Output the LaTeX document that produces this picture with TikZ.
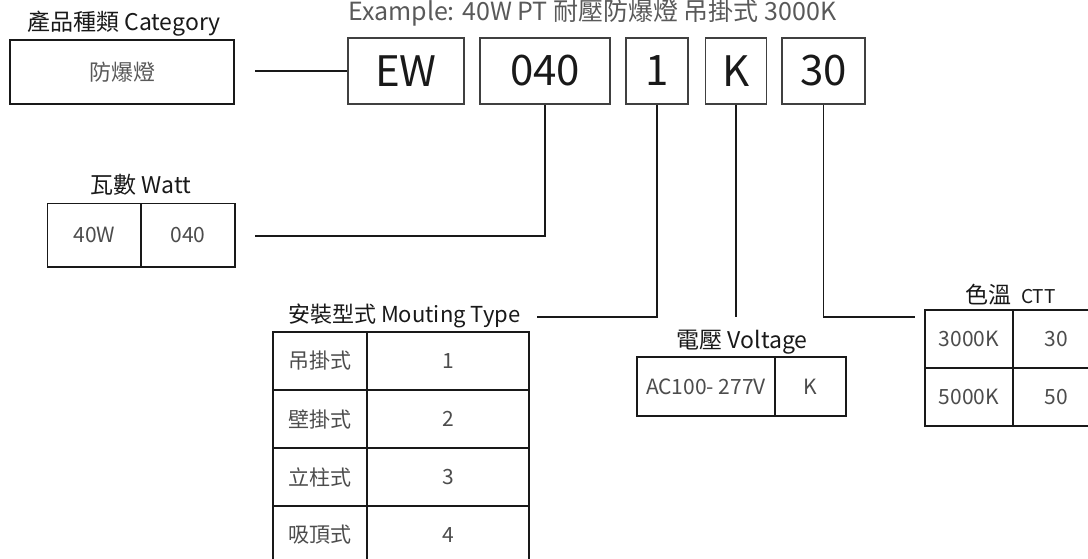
\documentclass[tikz,border=0pt]{standalone}
\usepackage{fontspec}
\setmainfont{Noto Sans CJK TC}
\begin{document}
\begin{tikzpicture}[x=1pt,y=-1pt,
 heading/.style={font=\fontsize{23}{27}\selectfont, text=black!90, inner sep=0pt},
 codebox/.style={draw=black!75, line width=1.3pt, minimum height=66pt, inner sep=0pt, font=\fontsize{42}{48}\selectfont, text=black!90},
 cell/.style={draw=black!90, line width=1.8pt, inner sep=0pt, font=\fontsize{21}{25}\selectfont, text=black!70},
 conn/.style={draw=black!90, line width=1.8pt}]
\useasboundingbox (0,0) rectangle (1088,559);
\clip (0,0) rectangle (1088,559);

% title
\node[font=\fontsize{25}{29}\selectfont, text=black!65, anchor=base west, inner sep=0pt] (title) at (348,21) {Example: 40W PT 耐壓防爆燈 吊掛式 3000K};

% category
\node[heading, anchor=base west] (cathead) at (27,31) {產品種類 Category};
\node[draw=black!90, line width=2pt, minimum width=224pt, minimum height=64pt, inner sep=0pt, font=\fontsize{22}{26}\selectfont, text=black!65] (cat) at (122,72) {防爆燈};

% code boxes
\node[codebox, minimum width=116pt] (ew) at (406,71) {EW};
\node[codebox, minimum width=130pt] (n040) at (545,71) {040};
\node[codebox, minimum width=62pt] (one) at (657,71) {1};
\node[codebox, minimum width=61pt] (k) at (736,71) {K};
\node[codebox, minimum width=83pt] (thirty) at (823.5,71) {30};

\coordinate (catend) at (255,71);
\draw[conn] (catend) -- (ew.west);

% watt
\node[heading, anchor=base] (watthead) at (141,194) {瓦數 Watt};
\node[cell, minimum width=93.5pt, minimum height=63.5pt] (w1) at (94.25,235.25) {40W};
\node[cell, minimum width=94pt, minimum height=63.5pt] (w2) at (188,235.25) {040};
\coordinate (wattend) at (255,236);
\draw[conn] (wattend) -| (n040.south);

% mounting
\node[heading, font=\fontsize{22}{26}\selectfont, anchor=base west] (mounthead) at (288,322) {安裝型式 Mouting Type};
\node[cell, minimum width=94pt, minimum height=58pt] (m1a) at (320,361) {吊掛式};
\node[cell, minimum width=162pt, minimum height=58pt] (m1b) at (448,361) {1};
\node[cell, minimum width=94pt, minimum height=58pt] (m2a) at (320,419) {壁掛式};
\node[cell, minimum width=162pt, minimum height=58pt] (m2b) at (448,419) {2};
\node[cell, minimum width=94pt, minimum height=58pt] (m3a) at (320,477) {立柱式};
\node[cell, minimum width=162pt, minimum height=58pt] (m3b) at (448,477) {3};
\node[cell, minimum width=94pt, minimum height=58pt] (m4a) at (320,535) {吸頂式};
\node[cell, minimum width=162pt, minimum height=58pt] (m4b) at (448,535) {4};
\coordinate (mountend) at (537,317);
\draw[conn] (mountend) -| (one.south);

% voltage
\coordinate (kend) at (736,317);
\draw[conn] (k.south) -- (kend);
\node[heading, anchor=base] (volthead) at (742,348) {電壓 Voltage};
\node[cell, minimum width=138pt, minimum height=59pt] (v1) at (706,386.5) {AC100- 277V};
\node[cell, minimum width=71pt, minimum height=59pt] (v2) at (810.5,386.5) {K};

% ctt
\coordinate (cttend) at (915,317);
\draw[conn] (thirty.south) |- (cttend);
\node[heading, anchor=base west] (ctthead) at (965,303) {色溫\hspace{10pt}{\fontsize{19}{23}\selectfont CTT}};
\node[cell, minimum width=88pt, minimum height=58pt] (c1a) at (969,339) {3000K};
\node[cell, minimum width=87pt, minimum height=58pt] (c1b) at (1056.5,339) {30};
\node[cell, minimum width=88pt, minimum height=58pt] (c2a) at (969,397) {5000K};
\node[cell, minimum width=87pt, minimum height=58pt] (c2b) at (1056.5,397) {50};
\end{tikzpicture}
\end{document}
